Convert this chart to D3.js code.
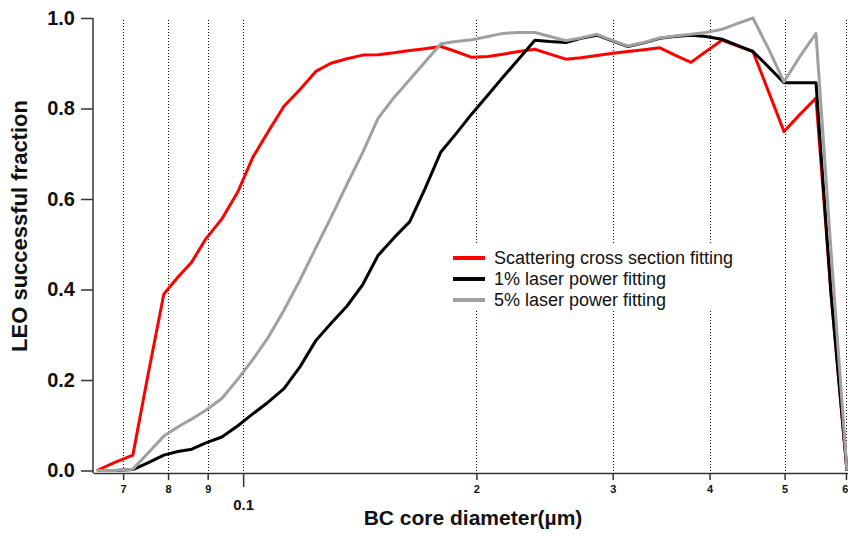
<!DOCTYPE html>
<html>
<head>
<meta charset="utf-8">
<script src="https://cdn.jsdelivr.net/npm/d3@7"></script>
<style>
  html, body { margin: 0; padding: 0; background: #fff; }
  svg { display: block; font-family: "Liberation Sans", Arial, sans-serif; }
</style>
</head>
<body>
<svg id="chart" width="848" height="536"></svg>
<script>
// BC core diameter bins (µm)
const diameter = [0.06474, 0.06831, 0.07205, 0.07534, 0.07900, 0.08235, 0.08585, 0.08951, 0.09386, 0.09844,
  0.1029, 0.1079, 0.1129, 0.1184, 0.1241, 0.1298, 0.1361, 0.1427, 0.1493, 0.1565,
  0.1641, 0.1716, 0.1800, 0.1882, 0.1973, 0.2070, 0.2164, 0.2270, 0.2380, 0.2489,
  0.2610, 0.2729, 0.2862, 0.3001, 0.3138, 0.3291, 0.3451, 0.3609, 0.3785, 0.3957,
  0.4150, 0.4352, 0.4550, 0.4772, 0.4990, 0.5233, 0.5488, 0.5738, 0.6017];

// LEO successful fraction per bin
const scattering = [0.000, 0.018, 0.034, 0.210, 0.390, 0.427, 0.461, 0.512, 0.556, 0.616,
  0.692, 0.751, 0.805, 0.842, 0.882, 0.900, 0.910, 0.918, 0.919, 0.923,
  0.928, 0.932, 0.937, 0.926, 0.913, 0.915, 0.920, 0.926, 0.931, 0.920,
  0.909, 0.912, 0.917, 0.922, 0.926, 0.930, 0.934, 0.918, 0.902, 0.926,
  0.951, 0.938, 0.926, 0.835, 0.749, 0.787, 0.823, 0.396, 0.000];

const laser1 = [0.000, 0.000, 0.002, 0.017, 0.034, 0.042, 0.047, 0.061, 0.074, 0.099,
  0.125, 0.152, 0.181, 0.229, 0.287, 0.325, 0.363, 0.411, 0.475, 0.514,
  0.550, 0.622, 0.704, 0.744, 0.788, 0.830, 0.869, 0.910, 0.951, 0.948,
  0.946, 0.955, 0.962, 0.949, 0.937, 0.945, 0.955, 0.959, 0.962, 0.959,
  0.953, 0.939, 0.926, 0.891, 0.857, 0.857, 0.857, 0.391, 0.000];

const laser5 = [0.000, 0.000, 0.003, 0.038, 0.076, 0.096, 0.114, 0.133, 0.159, 0.202,
  0.245, 0.296, 0.354, 0.421, 0.492, 0.559, 0.632, 0.703, 0.778, 0.824,
  0.864, 0.902, 0.943, 0.948, 0.952, 0.959, 0.966, 0.968, 0.968, 0.959,
  0.950, 0.956, 0.964, 0.950, 0.938, 0.946, 0.956, 0.960, 0.964, 0.968,
  0.975, 0.988, 1.000, 0.930, 0.859, 0.915, 0.966, 0.487, 0.000];

const seriesNames = ["Scattering cross section fitting", "1% laser power fitting", "5% laser power fitting"];
const seriesColors = ["#ff0000", "#000000", "#a0a0a0"];

const xTickValues = [0.07, 0.08, 0.09, 0.1, 0.2, 0.3, 0.4, 0.5, 0.6];
const xTickLabels = ["7", "8", "9", "0.1", "2", "3", "4", "5", "6"];
const yTickValues = [0, 0.2, 0.4, 0.6, 0.8, 1.0];

const svg = d3.select("#chart");
const axisY0 = 473;   // x axis line sits a little below zero
const x = d3.scaleLog().domain([0.0640, 0.6036]).range([93, 848]);
const y = d3.scaleLinear().domain([0, 1]).range([470.5, 18]);

// dotted vertical grid
svg.append("g")
  .attr("shape-rendering", "crispEdges")
  .selectAll("line")
  .data(xTickValues)
  .join("line")
  .attr("x1", d => Math.round(x(d)) + 0.5)
  .attr("x2", d => Math.round(x(d)) + 0.5)
  .attr("y1", 20)
  .attr("y2", 471)
  .attr("stroke", "#000")
  .attr("stroke-width", 1)
  .attr("stroke-dasharray", "1,2");

// legend background covers the grid behind it
const lg = svg.append("g");
lg.append("rect").attr("x", 445).attr("y", 245).attr("width", 296).attr("height", 65).attr("fill", "#fff");

// series
const series = [scattering, laser1, laser5];
const line = d3.line().x((d, i) => x(diameter[i])).y(d => y(d));
series.forEach((vals, k) => {
  svg.append("path")
    .datum(vals)
    .attr("fill", "none")
    .attr("stroke", seriesColors[k])
    .attr("stroke-width", 3)
    .attr("stroke-linejoin", "round")
    .attr("d", line);
});

// x axis
const xAxis = svg.append("g")
  .attr("transform", `translate(0,${axisY0})`)
  .call(d3.axisBottom(x).tickValues(xTickValues).tickSize(7).tickSizeOuter(0).tickPadding(5)
    .tickFormat((d, i) => xTickLabels[i]));
xAxis.select(".domain").attr("stroke", "#333").attr("stroke-width", 1.5);
xAxis.selectAll(".tick line").attr("stroke", "#333").attr("stroke-width", 1.5);
xAxis.selectAll(".tick text").attr("font-size", 11).attr("font-weight", "bold").attr("fill", "#111")
  .attr("font-family", "Liberation Sans, Arial, sans-serif");
xAxis.selectAll(".tick").filter(d => d === 0.1).each(function () {
  d3.select(this).select("line").attr("y2", 14);
  d3.select(this).select("text").attr("font-size", 15).attr("y", 26);
});
// last label kept inside the page edge
xAxis.selectAll(".tick").filter(d => d === 0.6).select("text").attr("text-anchor", "end").attr("dx", 2);

// y axis
const yAxis = svg.append("g")
  .attr("transform", "translate(93,0)")
  .call(d3.axisLeft(y).tickValues(yTickValues).tickSize(12).tickSizeOuter(0).tickPadding(6)
    .tickFormat(d3.format(".1f")));
yAxis.select(".domain").remove();
yAxis.append("line").attr("x1", 0).attr("x2", 0).attr("y1", y(1)).attr("y2", axisY0)
  .attr("stroke", "#333").attr("stroke-width", 1.5);
yAxis.selectAll(".tick line").attr("stroke", "#333").attr("stroke-width", 1.5);
yAxis.selectAll(".tick text").attr("font-size", 20).attr("font-weight", "bold").attr("fill", "#111")
  .attr("font-family", "Liberation Sans, Arial, sans-serif");

// axis titles
svg.append("text")
  .attr("x", 473).attr("y", 525)
  .attr("text-anchor", "middle")
  .attr("font-size", 21).attr("font-weight", "bold").attr("fill", "#111")
  .text("BC core diameter(µm)");
svg.append("text")
  .attr("transform", "translate(27,226) rotate(-90)")
  .attr("text-anchor", "middle")
  .attr("font-size", 22).attr("font-weight", "bold").attr("fill", "#111")
  .text("LEO successful fraction");

// legend entries
seriesNames.forEach((name, k) => {
  const cy = 258 + k * 21;
  lg.append("line").attr("x1", 453).attr("x2", 485).attr("y1", cy).attr("y2", cy)
    .attr("stroke", seriesColors[k]).attr("stroke-width", 4);
  lg.append("text").attr("x", 494).attr("y", cy + 6.4)
    .attr("font-size", 18).attr("fill", "#111").text(name);
});
</script>
</body>
</html>
